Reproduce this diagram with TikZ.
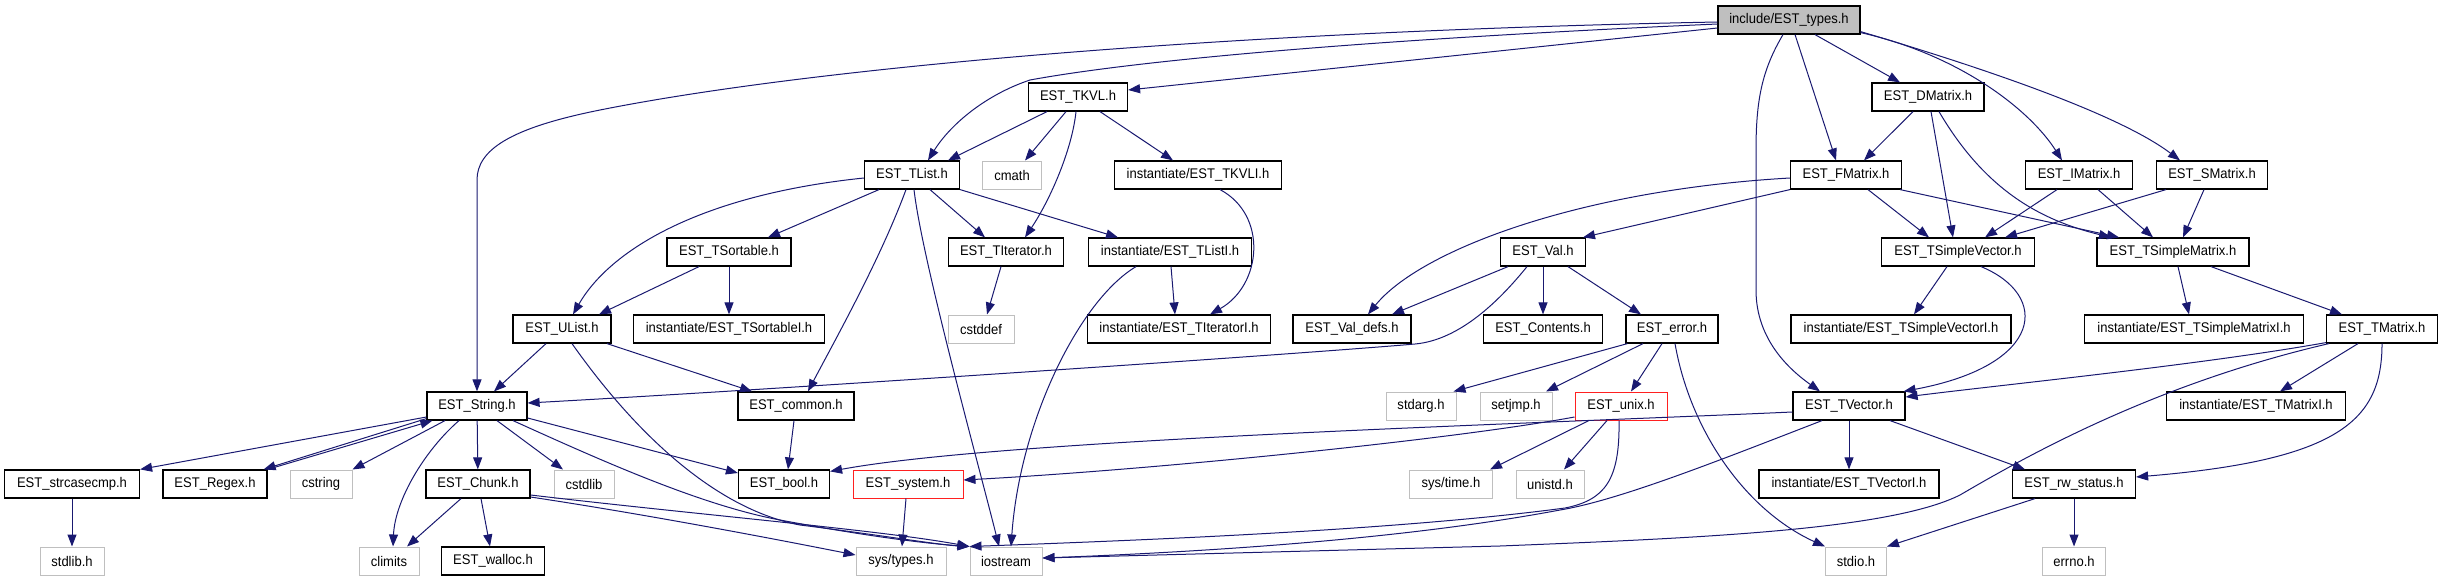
\documentclass[tikz,border=0pt]{standalone}
\usepackage{fontspec}
\usepackage{graphicx}
\setmainfont{Liberation Sans}
\usetikzlibrary{arrows.meta}
\definecolor{edgec}{HTML}{191970}
\definecolor{grayb}{HTML}{BFBFBF}
\definecolor{redb}{HTML}{FF2020}
\newcommand{\lbl}[1]{\scalebox{0.93}[1]{#1}}
\begin{document}
\begin{tikzpicture}[x=1pt,y=-1pt,
  box/.style={rectangle, draw=black, line width=1.2pt, minimum height=28pt, inner sep=0pt, font=\fontsize{14}{16}\selectfont},
  sysbox/.style={box, draw=grayb, line width=1pt},
  redbox/.style={box, draw=redb, line width=1pt},
  rootbox/.style={box, fill=grayb},
  e/.style={draw=edgec, line width=1pt, -{Triangle[length=12pt,width=9pt]}}]
\useasboundingbox (0,0) rectangle (2443,581);
% nodes
\node[rootbox, minimum width=142] (types) at (1789,20) {\lbl{include/EST\_types.h}};
\node[box, minimum width=99] (TKVL) at (1078,97) {\lbl{EST\_TKVL.h}};
\node[box, minimum width=112] (DMatrix) at (1928,97) {\lbl{EST\_DMatrix.h}};
\node[box, minimum width=95] (TList) at (912,175) {\lbl{EST\_TList.h}};
\node[sysbox, minimum width=59] (cmath) at (1012,175) {\lbl{cmath}};
\node[box, minimum width=167] (TKVLI) at (1198,175) {\lbl{instantiate/EST\_TKVLI.h}};
\node[box, minimum width=111] (FMatrix) at (1846,175) {\lbl{EST\_FMatrix.h}};
\node[box, minimum width=107] (IMatrix) at (2079,175) {\lbl{EST\_IMatrix.h}};
\node[box, minimum width=111] (SMatrix) at (2212,175) {\lbl{EST\_SMatrix.h}};
\node[box, minimum width=124] (TSortable) at (729,252) {\lbl{EST\_TSortable.h}};
\node[box, minimum width=115] (TIterator) at (1006,252) {\lbl{EST\_TIterator.h}};
\node[box, minimum width=163] (TListI) at (1170,252) {\lbl{instantiate/EST\_TListI.h}};
\node[box, minimum width=85] (Val) at (1543,252) {\lbl{EST\_Val.h}};
\node[box, minimum width=153] (TSV) at (1958,252) {\lbl{EST\_TSimpleVector.h}};
\node[box, minimum width=152] (TSM) at (2173,252) {\lbl{EST\_TSimpleMatrix.h}};
\node[box, minimum width=98] (UList) at (562,329) {\lbl{EST\_UList.h}};
\node[box, minimum width=191] (TSortableI) at (729,329) {\lbl{instantiate/EST\_TSortableI.h}};
\node[sysbox, minimum width=66] (cstddef) at (981,329) {\lbl{cstddef}};
\node[box, minimum width=183] (TIteratorI) at (1179,329) {\lbl{instantiate/EST\_TIteratorI.h}};
\node[box, minimum width=118] (Valdefs) at (1352,329) {\lbl{EST\_Val\_defs.h}};
\node[box, minimum width=119] (Contents) at (1543,329) {\lbl{EST\_Contents.h}};
\node[box, minimum width=92] (error) at (1672,329) {\lbl{EST\_error.h}};
\node[box, minimum width=220] (TSVI) at (1901,329) {\lbl{instantiate/EST\_TSimpleVectorI.h}};
\node[box, minimum width=219] (TSMI) at (2194,329) {\lbl{instantiate/EST\_TSimpleMatrixI.h}};
\node[box, minimum width=111] (TMatrix) at (2382,329) {\lbl{EST\_TMatrix.h}};
\node[box, minimum width=100] (String) at (477,406) {\lbl{EST\_String.h}};
\node[box, minimum width=116] (common) at (796,406) {\lbl{EST\_common.h}};
\node[sysbox, minimum width=70] (stdarg) at (1421,406) {\lbl{stdarg.h}};
\node[sysbox, minimum width=72] (setjmp) at (1516,406) {\lbl{setjmp.h}};
\node[redbox, minimum width=92] (unix) at (1621,406) {\lbl{EST\_unix.h}};
\node[box, minimum width=112] (TVector) at (1849,406) {\lbl{EST\_TVector.h}};
\node[box, minimum width=179] (TMatrixI) at (2256,406) {\lbl{instantiate/EST\_TMatrixI.h}};
\node[box, minimum width=135] (strcasecmp) at (72,484) {\lbl{EST\_strcasecmp.h}};
\node[box, minimum width=104] (Regex) at (215,484) {\lbl{EST\_Regex.h}};
\node[sysbox, minimum width=62] (cstring) at (321,484) {\lbl{cstring}};
\node[box, minimum width=104] (Chunk) at (478,484) {\lbl{EST\_Chunk.h}};
\node[sysbox, minimum width=60] (cstdlib) at (584,484) {\lbl{cstdlib}};
\node[box, minimum width=91] (bool) at (784,484) {\lbl{EST\_bool.h}};
\node[redbox, minimum width=110] (system) at (908,484) {\lbl{EST\_system.h}};
\node[sysbox, minimum width=83] (systime) at (1451,484) {\lbl{sys/time.h}};
\node[sysbox, minimum width=68] (unistd) at (1550,484) {\lbl{unistd.h}};
\node[box, minimum width=180] (TVectorI) at (1849,484) {\lbl{instantiate/EST\_TVectorI.h}};
\node[box, minimum width=123] (rw) at (2074,484) {\lbl{EST\_rw\_status.h}};
\node[sysbox, minimum width=64] (stdlib) at (72,561) {\lbl{stdlib.h}};
\node[sysbox, minimum width=60] (climits) at (389,561) {\lbl{climits}};
\node[box, minimum width=103] (walloc) at (493,561) {\lbl{EST\_walloc.h}};
\node[sysbox, minimum width=90] (systypes) at (901,561) {\lbl{sys/types.h}};
\node[sysbox, minimum width=72] (iostream) at (1006,561) {\lbl{iostream}};
\node[sysbox, minimum width=61] (stdio) at (1856,561) {\lbl{stdio.h}};
\node[sysbox, minimum width=63] (errno) at (2074,561) {\lbl{errno.h}};
% edges from include/EST_types.h
\draw[e] ([yshift=-2]types.west) .. controls (1200,32) and (800,70) .. (600,110) .. controls (510,128) and (477,150) .. (477,180) -- (String.north);
\draw[e] ([yshift=-4]types.west) .. controls (1400,38) and (1150,58) .. (1030,80) .. controls (985,95) and (950,125) .. ([xshift=16]TList.north);
\draw[e] ([yshift=-8]types.west) -- ([yshift=7]TKVL.east);
\draw[e] ([xshift=6]types.south) -- ([xshift=-10]FMatrix.north);
\draw[e] ([xshift=26]types.south) -- ([xshift=-28]DMatrix.north);
\draw[e] ([yshift=2]types.south east) .. controls (1960,55) and (2030,110) .. ([xshift=-17]IMatrix.north);
\draw[e] ([yshift=3]types.south east) .. controls (1990,70) and (2120,115) .. ([xshift=-32]SMatrix.north);
\draw[e] ([xshift=-6]types.south) .. controls (1762,70) and (1756,100) .. (1756,150) -- (1756,290) .. controls (1756,340) and (1790,370) .. ([xshift=-29]TVector.north);
% EST_TKVL.h
\draw[e] ([xshift=-31]TKVL.south) -- ([xshift=36]TList.north);
\draw[e] ([xshift=-12]TKVL.south) -- ([xshift=13]cmath.north);
\draw[e] ([xshift=-2]TKVL.south) .. controls (1072,150) and (1050,200) .. ([xshift=19]TIterator.north);
\draw[e] ([xshift=22]TKVL.south) -- ([xshift=-25]TKVLI.north);
% EST_TList.h
\draw[e] ([yshift=-3]TList.west) .. controls (700,195) and (610,250) .. ([xshift=11]UList.north);
\draw[e] ([xshift=-33]TList.south) -- ([xshift=39]TSortable.north);
\draw[e] ([xshift=18]TList.south) -- ([xshift=-21]TIterator.north);
\draw[e] (TList.south east) -- ([xshift=-52]TListI.north);
\draw[e] ([xshift=-6]TList.south) .. controls (880,260) and (835,340) .. ([xshift=12]common.north);
\draw[e] ([xshift=2]TList.south) .. controls (922,260) and (980,470) .. ([xshift=-7]iostream.north);
% EST_TSortable.h, EST_TIterator.h
\draw[e] ([xshift=-30]TSortable.south) -- ([xshift=37]UList.north);
\draw[e] (TSortable) -- (TSortableI);
\draw[e] ([xshift=-5]TIterator.south) -- ([xshift=6]cstddef.north);
% instantiate files
\draw[e] ([xshift=22]TKVLI.south) .. controls (1268,215) and (1262,285) .. ([xshift=31]TIteratorI.north);
\draw[e] ([xshift=1]TListI.south) -- ([xshift=-4]TIteratorI.north);
\draw[e] ([xshift=-34]TListI.south) .. controls (1080,300) and (1020,420) .. ([xshift=5]iostream.north);
% EST_FMatrix.h
\draw[e] (FMatrix.south west) -- ([xshift=40]Val.north);
\draw[e] ([yshift=-3]FMatrix.west) .. controls (1580,190) and (1420,250) .. ([xshift=16]Valdefs.north);
\draw[e] ([xshift=22]FMatrix.south) -- ([xshift=-29]TSV.north);
\draw[e] ([xshift=-2]FMatrix.south east) -- ([xshift=-54]TSM.north);
% EST_DMatrix.h
\draw[e] ([xshift=-15]DMatrix.south) -- ([xshift=18]FMatrix.north);
\draw[e] ([xshift=3]DMatrix.south) -- ([xshift=-5]TSV.north);
\draw[e] ([xshift=11]DMatrix.south) .. controls (1985,190) and (2040,220) .. ([xshift=-62]TSM.north);
% EST_IMatrix.h, EST_SMatrix.h
\draw[e] ([xshift=-22]IMatrix.south) -- ([xshift=27]TSV.north);
\draw[e] ([xshift=19]IMatrix.south) -- ([xshift=-20]TSM.north);
\draw[e] ([xshift=-46]SMatrix.south) -- ([xshift=47]TSV.north);
\draw[e] ([xshift=-8]SMatrix.south) -- ([xshift=10]TSM.north);
% EST_Val.h
\draw[e] ([xshift=-35]Val.south) -- ([xshift=40]Valdefs.north);
\draw[e] ([xshift=-16]Val.south) .. controls (1500,300) and (1460,340) .. (1415,344) .. controls (1300,354) and (800,388) .. ([yshift=3]String.east);
\draw[e] (Val) -- (Contents);
\draw[e] ([xshift=25]Val.south) -- ([xshift=-31]error.north);
% EST_TSimpleVector.h, EST_TSimpleMatrix.h
\draw[e] ([xshift=-11]TSV.south) -- ([xshift=13]TSVI.north);
\draw[e] ([xshift=23]TSV.south) .. controls (2050,295) and (2045,365) .. ([xshift=-2]TVector.north east);
\draw[e] ([xshift=5]TSM.south) -- ([xshift=-5]TSMI.north);
\draw[e] ([xshift=38]TSM.south) -- ([xshift=-40]TMatrix.north);
% EST_TMatrix.h
\draw[e] ([yshift=1]TMatrix.south west) .. controls (2200,365) and (2000,385) .. ([yshift=9]TVector.east);
\draw[e] ([xshift=3]TMatrix.south west) .. controls (2150,385) and (2020,460) .. (1960,495) .. controls (1890,530) and (1700,538) .. (1500,546) -- ([yshift=3]iostream.east);
\draw[e] ([xshift=-24]TMatrix.south) -- ([xshift=24]TMatrixI.north);
\draw[e] (TMatrix.south) .. controls (2382,420) and (2340,460) .. ([yshift=7]rw.east);
% EST_TVector.h
\draw[e] (TVector) -- (TVectorI);
\draw[e] ([xshift=41]TVector.south) -- ([xshift=-49]rw.north);
\draw[e] ([yshift=-6]TVector.west) .. controls (1500,425) and (1000,440) .. ([yshift=-2]bool.north east);
\draw[e] ([xshift=-27]TVector.south) .. controls (1720,460) and (1620,500) .. (1560,510) .. controls (1400,540) and (1200,552) .. ([yshift=3]iostream.east);
% EST_unix.h
\draw[e] ([xshift=-2]unix.south) .. controls (1620,480) and (1605,500) .. (1565,508) .. controls (1400,530) and (1150,540) .. (iostream.north west);
\draw[e] ([yshift=-11]unix.west) .. controls (1450,440) and (1150,470) .. ([yshift=4]system.east);
\draw[e] ([xshift=-32]unix.south) -- ([xshift=39]systime.north);
\draw[e] ([xshift=-14]unix.south) -- ([xshift=14]unistd.north);
% EST_error.h
\draw[e] ([xshift=2]error.south west) -- ([xshift=-3]stdarg.north east);
\draw[e] ([xshift=-29]error.south) -- ([xshift=30]setjmp.north);
\draw[e] ([xshift=-10]error.south) -- ([xshift=10]unix.north);
\draw[e] ([xshift=3]error.south) .. controls (1690,430) and (1745,510) .. (stdio.north west);
% EST_rw_status.h
\draw[e] ([xshift=-39]rw.south) -- (stdio.north east);
\draw[e] (rw) -- (errno);
% EST_UList.h
\draw[e] ([xshift=-16]UList.south) -- ([xshift=17]String.north);
\draw[e] ([xshift=45]UList.south) -- ([xshift=-44]common.north);
\draw[e] ([xshift=10]UList.south) .. controls (640,440) and (720,510) .. (800,525) .. controls (880,535) and (940,545) .. (iostream.north west);
% EST_String.h
\draw[e] ([yshift=-11]String.west) -- (strcasecmp.north east);
\draw[e] ([yshift=2]String.south west) -- ([xshift=-4]Regex.north east);
\draw[e] (Regex.north east) -- ([xshift=6]String.south west);
\draw[e] ([xshift=-32]String.south) -- (cstring.north east);
\draw[e] ([xshift=-18]String.south) .. controls (425,450) and (395,500) .. ([xshift=4]climits.north);
\draw[e] (String) -- (Chunk);
\draw[e] ([xshift=20]String.south) -- ([xshift=-21]cstdlib.north);
\draw[e] ([yshift=-12]String.east) -- ([yshift=11]bool.west);
\draw[e] ([xshift=36]String.south) .. controls (600,460) and (700,505) .. (780,520) .. controls (860,535) and (920,543) .. (iostream.north west);
% EST_Chunk.h
\draw[e] ([xshift=-17]Chunk.south) -- ([xshift=18]climits.north);
\draw[e] ([xshift=3]Chunk.south) -- ([xshift=-3]walloc.north);
\draw[e] ([yshift=-13]Chunk.east) .. controls (650,515) and (780,540) .. ([yshift=6]systypes.west);
\draw[e] ([yshift=-11]Chunk.east) .. controls (700,515) and (880,530) .. (iostream.north west);
% others
\draw[e] ([xshift=-2]common.south) -- ([xshift=4]bool.north);
\draw[e] ([xshift=-2]system.south) -- ([xshift=1]systypes.north);
\draw[e] (strcasecmp) -- (stdlib);
\end{tikzpicture}
\end{document}
